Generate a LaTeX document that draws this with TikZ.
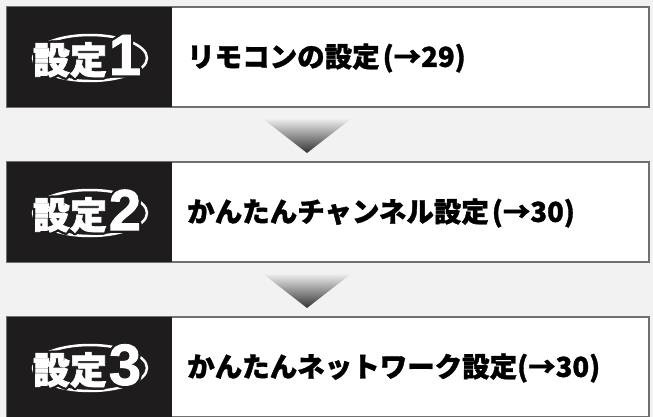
\documentclass[tikz,border=0pt]{standalone}
\usepackage{fontspec}
\usepackage{contour}
\newfontfamily\jpfont{Noto Sans CJK JP}[BoldFeatures={FakeBold=1.2}]
\newfontfamily\jpheavy{Noto Sans CJK JP}[BoldFeatures={FakeBold=2}]
\newfontfamily\numfont{Liberation Sans}[BoldFeatures={FakeBold=1.5}]
\usetikzlibrary{positioning,calc}
\contourlength{2.2pt}

\definecolor{pagegray}{HTML}{F2F2F2}
\definecolor{framegray}{HTML}{707070}
\definecolor{badgeblack}{HTML}{1E1C1C}

\tikzset{
  rowbox/.style={draw=framegray, line width=2pt, fill=white, minimum width=642pt, minimum height=100pt, inner sep=0pt},
  badgebox/.style={fill=badgeblack, minimum width=165pt, minimum height=100pt, inner sep=0pt, anchor=north west},
  steptext/.style={anchor=west, inner sep=0pt, font=\jpfont\bfseries\fontsize{27.5}{27.5}\selectfont},
  badgetext/.style={text=white, inner sep=0pt, font=\jpheavy\bfseries\fontsize{37}{37}\selectfont},
  badgenum/.style={text=white, inner sep=0pt, font=\numfont\bfseries\fontsize{58}{58}\selectfont},
  downarrow/.style={top color=gray!10, bottom color=black!80}
}

\begin{document}
\begin{tikzpicture}[x=1pt, y=-1pt]
  \fill[pagegray] (0,0) rectangle (653,417);
  \useasboundingbox (0,0) rectangle (653,417);
  \clip (0,0) rectangle (653,417);

  % three rows
  \foreach \i/\y/\txt in {1/57/{リモコンの設定\kern3pt(→29)},
                          2/212/{かんたんチャンネル設定\kern3pt(→30)},
                          3/367/{かんたんネットワーク設定(→30)}} {
    \node[rowbox] (row\i) at (328, \y) {};
    \node[badgebox] (badge\i) at ($(row\i.north west)+(1pt,-1pt)$) {};
    \draw[white, line width=2.5pt] (90, \y+1) ellipse [x radius=57, y radius=23];
    \node[badgetext] (label\i) at (70, \y+4) {\contour{badgeblack}{設定}};
    \node[badgenum] (num\i) at (125, \y-1) {\contour{badgeblack}{\i}};
    \node[steptext] (text\i) at (187, \y+1) {\txt};
  }

  % arrows between the rows
  \coordinate (gap1) at (307, 118);
  \coordinate (gap2) at (307, 273);
  \shade[downarrow] ($(gap1)+(-45,0)$) -- ($(gap1)+(45,0)$) -- ($(gap1)+(0,35)$) -- cycle;
  \shade[downarrow] ($(gap2)+(-45,0)$) -- ($(gap2)+(45,0)$) -- ($(gap2)+(0,35)$) -- cycle;
\end{tikzpicture}
\end{document}
